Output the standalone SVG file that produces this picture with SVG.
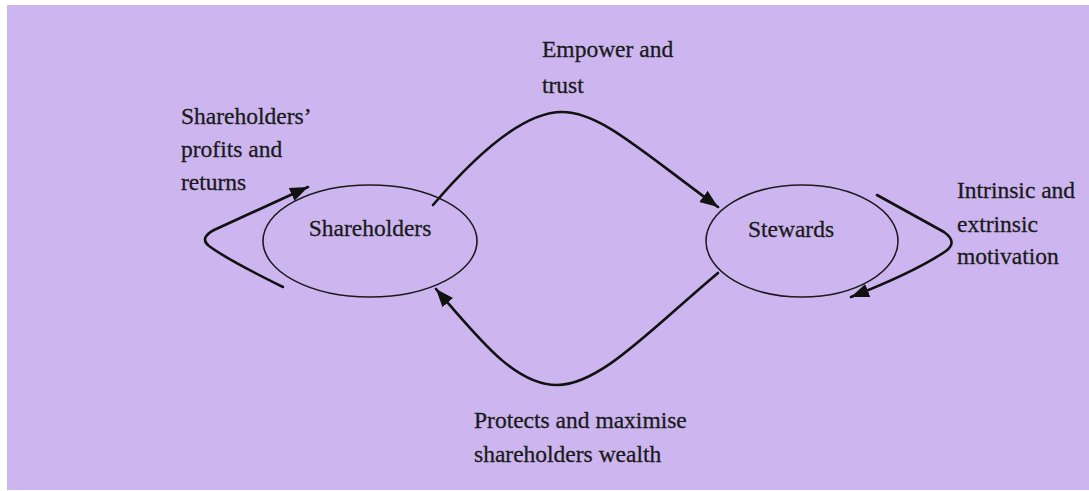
<svg xmlns="http://www.w3.org/2000/svg" width="1089" height="491" viewBox="0 0 1089 491">
  <style>
    .node-shape { fill: none; stroke: #1a1a1a; stroke-width: 1.6; }
    .node-text { font-family: "Liberation Serif", "DejaVu Serif", serif; font-size: 23.5px; fill: #1a1a1a; stroke: #1a1a1a; stroke-width: 0.3; text-anchor: middle; }
    .label { font-family: "Liberation Serif", "DejaVu Serif", serif; font-size: 23.5px; fill: #1a1a1a; stroke: #1a1a1a; stroke-width: 0.3; }
    .edge { fill: none; stroke: #111; stroke-width: 2.6; stroke-linecap: round; stroke-linejoin: round; }
  </style>
  <defs>
    <marker id="arrow" markerUnits="userSpaceOnUse" markerWidth="20" markerHeight="16" refX="18" refY="8" orient="auto">
      <path d="M0,1 L18,8 L0,15 Z" fill="#111"/>
    </marker>
  </defs>

  <!-- page background -->
  <rect x="0" y="0" width="1089" height="491" fill="#ffffff"/>
  <rect x="7" y="5" width="1082" height="485" fill="#CDB6F0"/>

  <!-- connectors -->
  <g id="connectors">
    <!-- Shareholders to Stewards -->
    <path class="edge" d="M433,205 C480,150 525,112 562,112 C600,112 640,150 718,207" marker-end="url(#arrow)"/>
    <!-- Stewards back to Shareholders -->
    <path class="edge" d="M718,273 C650,330 600,385 557,385 C515,385 480,340 436,289" marker-end="url(#arrow)"/>
    <!-- Shareholders self loop -->
    <path class="edge" d="M283,287 Q228,260 209,246 Q199,238 214,230 L308,187" marker-end="url(#arrow)"/>
    <!-- Stewards self loop -->
    <path class="edge" d="M877,195 L944,232 Q958,242 946,251 Q915,272 851,297" marker-end="url(#arrow)"/>
  </g>

  <g id="node-shareholders">
    <ellipse class="node-shape" cx="370" cy="241" rx="107" ry="56"/>
    <text class="node-text" x="370" y="236">Shareholders</text>
  </g>

  <g id="node-stewards">
    <ellipse class="node-shape" cx="802" cy="241" rx="96" ry="56"/>
    <text class="node-text" x="791" y="237">Stewards</text>
  </g>

  <!-- edge labels -->
  <g id="labels">
    <text class="label" x="542" y="57">Empower and</text>
    <text class="label" x="542" y="93">trust</text>

    <text class="label" x="181" y="124">Shareholders’</text>
    <text class="label" x="181" y="157">profits and</text>
    <text class="label" x="181" y="190">returns</text>

    <text class="label" x="957" y="198">Intrinsic and</text>
    <text class="label" x="957" y="232">extrinsic</text>
    <text class="label" x="957" y="264">motivation</text>

    <text class="label" x="474" y="428">Protects and maximise</text>
    <text class="label" x="474" y="462">shareholders wealth</text>
  </g>
</svg>
